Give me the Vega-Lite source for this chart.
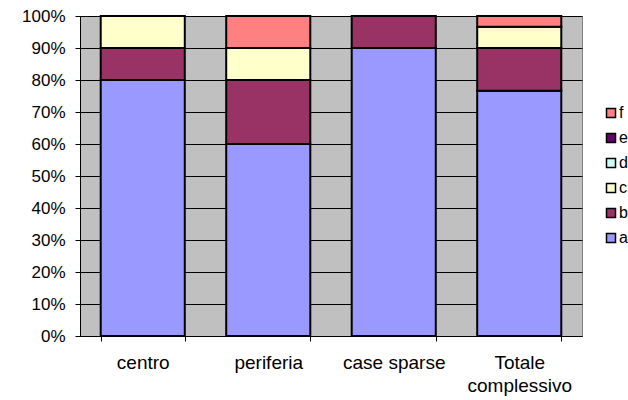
{
  "$schema": "https://vega.github.io/schema/vega-lite/v6.json",
  "width": 502,
  "height": 320,
  "autosize": {"type": "none"},
  "padding": {"left": 80, "top": 16, "right": 46, "bottom": 64},
  "background": "white",
  "config": {
    "view": {"fill": "#C0C0C0", "stroke": "#808080", "strokeWidth": 1},
    "font": "Liberation Sans",
    "axis": {
      "labelFont": "Liberation Sans",
      "labelColor": "black",
      "domainColor": "black",
      "tickColor": "black",
      "gridColor": "black",
      "gridOpacity": 1,
      "domainWidth": 1,
      "tickWidth": 1,
      "gridWidth": 1
    },
    "legend": {"labelFont": "Liberation Sans"}
  },
  "data": {
    "values": [
      {"zona": "centro", "serie": "a", "ord": 1, "v": 0.8},
      {"zona": "centro", "serie": "b", "ord": 2, "v": 0.1},
      {"zona": "centro", "serie": "c", "ord": 3, "v": 0.1},
      {"zona": "periferia", "serie": "a", "ord": 1, "v": 0.6},
      {"zona": "periferia", "serie": "b", "ord": 2, "v": 0.2},
      {"zona": "periferia", "serie": "c", "ord": 3, "v": 0.1},
      {"zona": "periferia", "serie": "f", "ord": 6, "v": 0.1},
      {"zona": "case sparse", "serie": "a", "ord": 1, "v": 0.9},
      {"zona": "case sparse", "serie": "b", "ord": 2, "v": 0.1},
      {"zona": "Totale complessivo", "serie": "a", "ord": 1, "v": 0.7667},
      {"zona": "Totale complessivo", "serie": "b", "ord": 2, "v": 0.1333},
      {"zona": "Totale complessivo", "serie": "c", "ord": 3, "v": 0.0667},
      {"zona": "Totale complessivo", "serie": "f", "ord": 6, "v": 0.0333}
    ]
  },
  "mark": {"type": "bar", "stroke": "black", "strokeWidth": 2},
  "encoding": {
    "x": {
      "field": "zona",
      "type": "nominal",
      "sort": ["centro", "periferia", "case sparse", "Totale complessivo"],
      "scale": {"paddingInner": 0.33, "paddingOuter": 0.165},
      "axis": {
        "title": null,
        "labelAngle": 0,
        "labelFontSize": 19,
        "labelPadding": 12,
        "tickSize": 5,
        "tickBand": "extent",
        "labelLineHeight": 23,
        "labelExpr": "datum.value == 'Totale complessivo' ? ['Totale', 'complessivo'] : datum.value"
      }
    },
    "y": {
      "field": "v",
      "type": "quantitative",
      "stack": "zero",
      "scale": {"domain": [0, 1], "nice": false},
      "axis": {
        "title": null,
        "format": ".0%",
        "values": [0, 0.1, 0.2, 0.3, 0.4, 0.5, 0.6, 0.7, 0.8, 0.9, 1],
        "labelFontSize": 17,
        "labelPadding": 10,
        "tickSize": 5,
        "grid": true
      }
    },
    "color": {
      "field": "serie",
      "type": "nominal",
      "scale": {
        "domain": ["f", "e", "d", "c", "b", "a"],
        "range": ["#FF8080", "#660066", "#CCFFFF", "#FFFFCC", "#993366", "#9999FF"]
      },
      "legend": {
        "title": null,
        "orient": "none",
        "legendX": 523,
        "legendY": 89,
        "padding": 0,
        "symbolType": "square",
        "symbolSize": 81,
        "symbolStrokeColor": "black",
        "symbolStrokeWidth": 1.5,
        "labelFontSize": 16,
        "labelColor": "black",
        "labelOffset": 0,
        "rowPadding": 9
      }
    },
    "order": {"field": "ord", "type": "quantitative", "sort": "ascending"}
  }
}
